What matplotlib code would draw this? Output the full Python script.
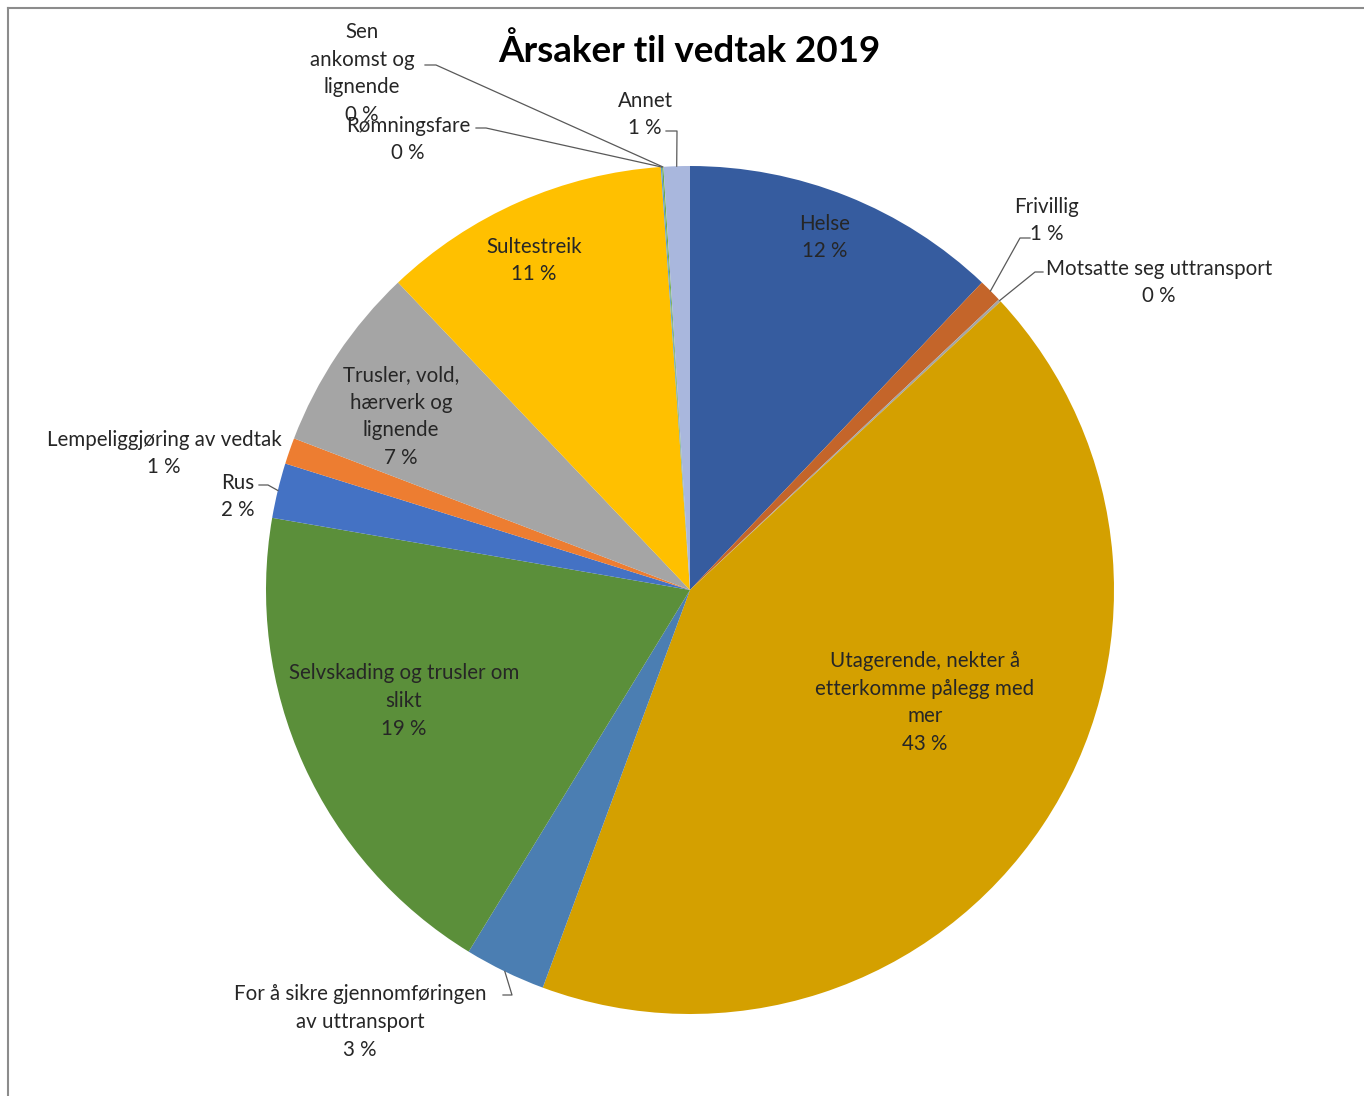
import numpy as np
import matplotlib
matplotlib.use('Agg')
import matplotlib.pyplot as plt

plt.rcParams['font.family'] = ['Lato', 'DejaVu Sans']

# data, clockwise from 12 o'clock
categories = ['Helse', 'Frivillig', 'Motsatte seg uttransport',
              'Utagerende, nekter å\netterkomme pålegg med\nmer',
              'For å sikre gjennomføringen\nav uttransport',
              'Selvskading og trusler om\nslikt', 'Rus',
              'Lempeliggjøring av vedtak',
              'Trusler, vold,\nhærverk og\nlignende', 'Sultestreik',
              'Rømningsfare', 'Sen\nankomst og\nlignende', 'Annet']
shares = [12.1, 0.9, 0.1, 42.6, 3.1, 19.0, 2.1, 1.0, 7.1, 11.0, 0.05, 0.05, 1.0]
colors = ['#365C9F', '#C4652A', '#A5A5A5', '#D4A000', '#4B7EB2', '#5B8F3A',
          '#4472C4', '#ED7D31', '#A5A5A5', '#FFC000', '#5B9BD5', '#70AD47',
          '#A9B7DD']

# layout (pixel coords, y down)
W, H = 1364, 1096
cx, cy, R = 690, 590, 424
label_xy = [(825, 237.5), (1047, 220.5), (1159, 282.5), (925, 702.5),
            (360, 1022), (404, 701), (238, 496.5), (164, 453.5),
            (401, 416.5), (534, 260.5), (408, 139.5), (362, 73.5),
            (645, 114.5)]
# leader: (start x, y, elbow x) or None
leaders = [None, (1030, 238, 1020), (1043, 272, 1035), None,
           (503, 995, 512), None, (259, 485, 268), None, None, None,
           (476, 128, 486), (425, 65, 436), (666, 131, 677)]

fig = plt.figure(figsize=(W / 100, H / 100), dpi=100)
ax = fig.add_axes([0, 0, 1, 1])

wedges, _ = ax.pie(shares, colors=colors, startangle=-90, counterclock=True,
                   center=(cx, cy), radius=R,
                   wedgeprops=dict(linewidth=0))
ax.set_xlim(0, W)
ax.set_ylim(H, 0)
ax.set_aspect('auto')
ax.axis('off')

txt_color = '#262626'
for i, w in enumerate(wedges):
    lx, ly = label_xy[i]
    ax.text(lx, ly, categories[i] + '\n' + f'{shares[i]:.0f} %',
            ha='center', va='center', ma='center', fontsize=14.8,
            color=txt_color, linespacing=1.49)
    if leaders[i] is not None:
        x0, y0, x1 = leaders[i]
        mid = np.radians((w.theta1 + w.theta2) / 2)
        ex = cx + R * np.cos(mid)
        ey = cy + R * np.sin(mid)
        ax.plot([x0, x1, ex], [y0, y0, ey], color='#595959', lw=0.9)

ax.text(689, 51, 'Årsaker til vedtak 2019', ha='center', va='center',
        fontsize=26.5, fontweight='bold', color='black')

# chart border (partly cropped)
ax.plot([8, W], [8, 8], color='#8c8c8c', lw=1.5, clip_on=False)
ax.plot([8, 8], [8, H], color='#8c8c8c', lw=1.5, clip_on=False)

fig.savefig('out.png', dpi=100)
